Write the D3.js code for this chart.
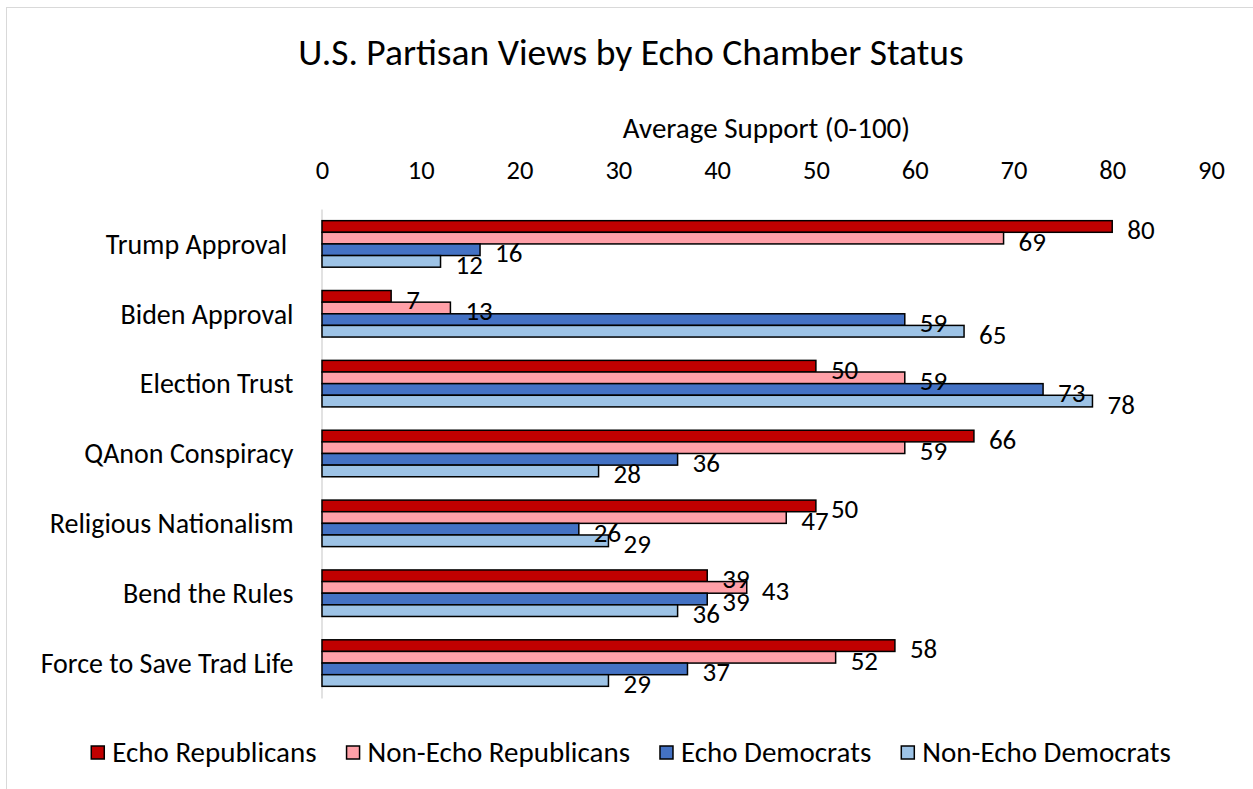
<!DOCTYPE html>
<html>
<head>
<meta charset="utf-8">
<script src="https://cdn.jsdelivr.net/npm/d3@7"></script>
<style>
  html, body { margin: 0; padding: 0; background: #fff; }
  svg text { font-family: Carlito, Calibri, Lato, sans-serif; fill: #000; }
</style>
</head>
<body>
<svg id="chart" width="1253" height="789"></svg>
<script>
// Survey topics (rows) and the four partisan groups (bars per row)
const categories = ["Trump Approval ", "Biden Approval", "Election Trust", "QAnon Conspiracy",
                    "Religious Nationalism", "Bend the Rules", "Force to Save Trad Life"];
const seriesNames = ["Echo Republicans", "Non-Echo Republicans", "Echo Democrats", "Non-Echo Democrats"];
const echoRepublicans    = [80, 7, 50, 66, 50, 39, 58];
const nonEchoRepublicans = [69, 13, 59, 59, 47, 43, 52];
const echoDemocrats      = [16, 59, 73, 36, 26, 39, 37];
const nonEchoDemocrats   = [12, 65, 78, 28, 29, 36, 29];
const tickValues = [0, 10, 20, 30, 40, 50, 60, 70, 80, 90];
const seriesColors = ["#C00000", "#FFA0A8", "#4472C4", "#9DC3E6"];

const seriesValues = [echoRepublicans, nonEchoRepublicans, echoDemocrats, nonEchoDemocrats];
const rows = categories.map((c, i) => ({
  category: c,
  values: seriesNames.map((s, k) => ({ series: s, k, value: seriesValues[k][i] }))
}));

const svg = d3.select("#chart");

// outer chart frame
svg.append("rect")
  .attr("x", 6.5).attr("y", 7.5)
  .attr("width", 1400).attr("height", 900)
  .attr("fill", "none").attr("stroke", "#d9d9d9").attr("stroke-width", 1);

const x = d3.scaleLinear().domain([0, 90]).range([322, 1211]);
const y = d3.scaleBand().domain(categories).range([209, 698])
  .paddingInner(0.334).paddingOuter(0.167);
const ySub = d3.scaleBand().domain(seriesNames).range([0, y.bandwidth()]);

// title
svg.append("text")
  .attr("x", 631).attr("y", 65)
  .attr("text-anchor", "middle")
  .style("font-size", "37.5px")
  .text("U.S. Partisan Views by Echo Chamber Status");

// axis title
svg.append("text")
  .attr("x", (x(0) + x(90)) / 2).attr("y", 138)
  .attr("text-anchor", "middle")
  .style("font-size", "29px")
  .text("Average Support (0-100)");

// top value axis: labels only
const xAxis = svg.append("g")
  .attr("transform", `translate(0, 179)`)
  .call(d3.axisTop(x).tickValues(tickValues).tickSize(0).tickPadding(0).tickFormat(d3.format("d")));
xAxis.select(".domain").remove();
xAxis.selectAll("text").style("font-size", "26.5px").attr("dy", 0);

// category axis: labels and light vertical line
const yAxis = svg.append("g")
  .attr("transform", `translate(${x(0) - 0.5}, 0)`)
  .call(d3.axisLeft(y).tickSize(0).tickPadding(28));
yAxis.select(".domain").attr("stroke", "#d9d9d9").attr("stroke-width", 1.5);
yAxis.selectAll("text").style("font-size", "28px").style("white-space", "pre").attr("dy", "0.35em");

// bars
const groups = svg.append("g").selectAll("g.row")
  .data(rows).join("g")
  .attr("class", "row")
  .attr("transform", d => `translate(0, ${y(d.category)})`);

groups.selectAll("rect")
  .data(d => d.values).join("rect")
  .attr("x", x(0))
  .attr("y", d => ySub(d.series))
  .attr("width", d => x(d.value) - x(0))
  .attr("height", ySub.bandwidth())
  .attr("fill", d => seriesColors[d.k])
  .attr("stroke", "#000")
  .attr("stroke-width", 1.5);

// value labels at outside end
groups.selectAll("text.val")
  .data(d => d.values).join("text")
  .attr("class", "val")
  .attr("x", d => x(d.value) + 15)
  .attr("y", d => ySub(d.series) + ySub.bandwidth() / 2 + 3)
  .attr("dy", "0.35em")
  .style("font-size", "27px")
  .text(d => d.value);

// legend along the bottom
const legend = svg.append("g").attr("class", "legend");
const items = legend.selectAll("g").data(seriesNames).join("g");
items.append("rect")
  .attr("width", 13).attr("height", 13)
  .attr("y", -6)
  .attr("fill", (d, i) => seriesColors[i])
  .attr("stroke", "#000").attr("stroke-width", 1.5);
items.append("text")
  .attr("x", 21).attr("dy", "0.35em")
  .style("font-size", "29px")
  .text(d => d);
let cursor = 0;
const widths = [];
items.each(function () {
  const w = 21 + this.querySelector("text").getComputedTextLength();
  widths.push(w);
});
const gap = 30;
const total = d3.sum(widths) + gap * (widths.length - 1);
cursor = 631 - total / 2;
items.attr("transform", (d, i) => {
  const tx = cursor;
  cursor += widths[i] + gap;
  return `translate(${tx}, 752)`;
});
</script>
</body>
</html>
